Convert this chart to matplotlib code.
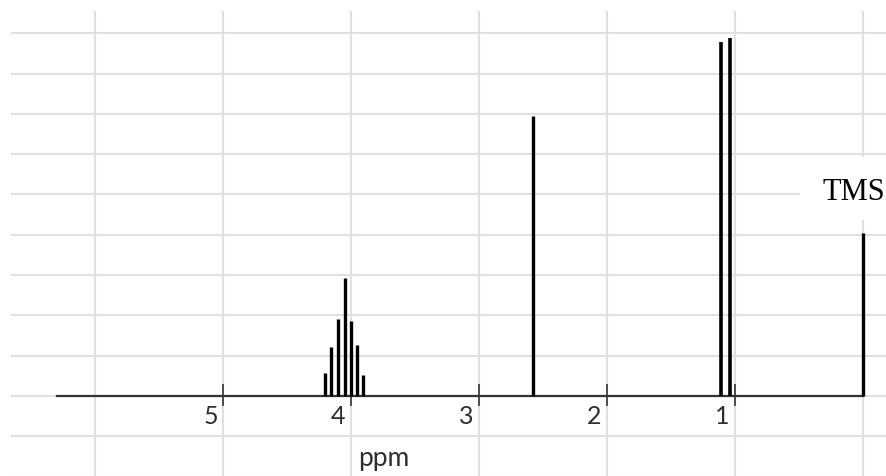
import numpy as np
import matplotlib.pyplot as plt
from matplotlib.patches import Rectangle

## DATA (chemical shift in ppm, relative peak heights in grid cells)
septet_ppm = [4.20, 4.155, 4.10, 4.045, 4.00, 3.95, 3.905]
septet_int = [0.58, 1.22, 1.91, 2.92, 1.86, 1.27, 0.52]

singlet_ppm = [2.58]
singlet_int = [6.95]

doublet_ppm = [1.107, 1.041]
doublet_int = [8.78, 8.88]

tms_ppm = [0.0]
tms_int = [4.04]

tick_values = [5, 4, 3, 2, 1]
tick_labels = ["5", "4", "3", "2", "1"]

baseline_start = 6.3   # ppm where the drawn baseline begins

# ---------------------------------------------------------------
fig = plt.figure(figsize=(8.87, 4.76), dpi=100)
ax = fig.add_axes([0, 0, 1, 1])
ax.set_xlim(6.742, -0.1875)
ax.set_ylim(-1.985, 9.826)
ax.axis("off")

# spreadsheet-like cell grid
grid_col = "#e0e0e0"
ax.vlines(np.arange(0, 7), -2.5, 9.55, color=grid_col, lw=1.5, zorder=0)
ax.hlines(np.arange(-2, 10), 6.656, -0.3, color=grid_col, lw=1.5, zorder=0)

# white patch behind TMS label
ax.add_patch(Rectangle((-0.3, 4.37), 0.792, 1.56, facecolor="white",
                       edgecolor="none", zorder=1))

# baseline + tick marks
ax.plot([baseline_start, 0], [0, 0], color="#333333", lw=1.6, zorder=2)
ax.vlines(tick_values, -0.25, 0.3, color="#333333", lw=1.2, zorder=2)

# peaks
ax.vlines(septet_ppm, 0, septet_int, color="black", lw=2.4, zorder=3)
ax.vlines(singlet_ppm, 0, singlet_int, color="black", lw=2.4, zorder=3)
ax.vlines(doublet_ppm, 0, doublet_int, color="black", lw=2.6, zorder=3)
ax.vlines(tms_ppm, 0, tms_int, color="black", lw=2.4, zorder=3)

# labels
for v, lab in zip(tick_values, tick_labels):
    ax.text(v + 0.098, -0.5, lab, ha="center", va="center",
            fontsize=18, family="Lato", color="#2e2e2e", zorder=4)

ax.text(3.742, -1.737, "ppm", ha="center", va="baseline",
        fontsize=19, family="Lato", color="#2e2e2e", zorder=4)
ax.text(0.074, 4.86, "TMS", ha="center", va="baseline",
        fontsize=22, family="Liberation Serif", color="black", zorder=4)

fig.savefig("out.png", dpi=100)
